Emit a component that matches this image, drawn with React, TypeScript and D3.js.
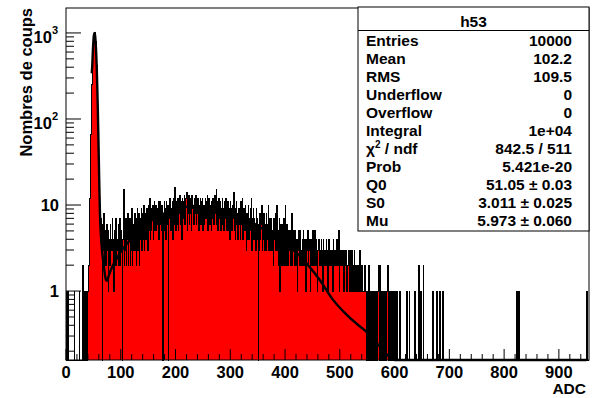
import React from 'react';
import * as d3 from 'd3';

// ---------- data ----------
const X_DOMAIN: [number, number] = [0, 955];
const Y_DOMAIN: [number, number] = [0.158, 1950];
const N_BINS = 955;

const xTickLabels = [0, 100, 200, 300, 400, 500, 600, 700, 800, 900];
const yDecades = [1, 10, 100, 1000];

// sparse bins below the pedestal peak: [adc, count]
const lowBins: [number, number][] = [
  [1, 1], [3, 1], [15, 1], [24, 1], [30, 1], [31, 2], [33, 1], [34, 1], [37, 1],
];

// pedestal peak, bins 38..64
const peakStart = 38;
const peakCounts = [
  1, 0, 1, 2, 5, 12, 31, 66, 138, 252, 410, 615, 798, 948, 1012, 942, 801, 604, 415, 249, 137, 70, 33,
  17, 9, 7, 5,
];

// photo-electron bump, bins 65..619
const bumpStart = 65;
const bumpCounts = [
  5, 0, 6, 3, 8, 2, 5, 4, 2, 6,
  3, 5, 1, 3, 4, 2, 6, 3, 4, 7,
  3, 4, 1, 5, 2, 4, 7, 2, 4, 3,
  6, 2, 4, 7, 2, 5, 3, 4, 0, 4,
  15, 2, 5, 3, 7, 2, 4, 6, 8, 2,
  4, 7, 2, 5, 3, 9, 2, 6, 5, 3,
  8, 3, 6, 2, 7, 9, 3, 5, 8, 2,
  7, 4, 9, 3, 6, 8, 4, 10, 3, 6,
  8, 4, 9, 5, 3, 10, 5, 7, 12, 4,
  9, 5, 7, 10, 4, 8, 11, 5, 7, 10,
  5, 9, 6, 11, 4, 9, 11, 6, 8, 5,
  10, 6, 0, 8, 11, 5, 9, 4, 11, 8,
  6, 10, 0, 7, 12, 12, 5, 9, 7, 11,
  4, 9, 12, 6, 16, 5, 11, 8, 6, 12,
  5, 10, 8, 13, 6, 11, 4, 12, 9, 7,
  11, 13, 6, 9, 12, 14, 5, 10, 8, 13,
  6, 12, 8, 11, 5, 13, 9, 10, 6, 12,
  8, 13, 13, 6, 11, 8, 12, 5, 10, 9,
  12, 6, 11, 8, 12, 5, 10, 6, 9, 12,
  7, 11, 8, 13, 5, 9, 12, 6, 10, 8,
  5, 11, 7, 12, 9, 6, 10, 13, 8, 15,
  6, 11, 5, 9, 12, 7, 9, 11, 5, 9,
  12, 6, 9, 5, 11, 7, 9, 12, 5, 8,
  11, 5, 9, 7, 4, 11, 7, 9, 5, 10,
  7, 14, 5, 9, 4, 8, 11, 6, 8, 4,
  9, 6, 8, 4, 11, 6, 8, 12, 4, 7,
  9, 5, 10, 6, 3, 8, 6, 4, 10, 4,
  7, 9, 5, 12, 3, 7, 5, 9, 4, 7,
  6, 3, 9, 5, 7, 4, 0, 6, 3, 8,
  4, 6, 10, 3, 7, 4, 8, 3, 6, 5,
  3, 8, 4, 6, 10, 3, 5, 7, 3, 5,
  7, 3, 5, 2, 7, 4, 5, 8, 3, 5,
  10, 3, 5, 2, 7, 1, 4, 6, 2, 4,
  6, 2, 4, 7, 2, 10, 4, 2, 6, 3,
  2, 5, 4, 3, 5, 2, 6, 8, 2, 4,
  3, 5, 2, 5, 2, 4, 3, 1, 4, 3,
  5, 2, 3, 5, 2, 3, 4, 2, 5, 3,
  2, 4, 3, 1, 4, 3, 5, 2, 3, 4,
  3, 1, 4, 3, 2, 3, 5, 2, 3, 5,
  3, 2, 4, 3, 1, 3, 4, 2, 3, 2,
  3, 4, 2, 3, 1, 4, 3, 2, 3, 2,
  4, 2, 3, 1, 3, 4, 2, 3, 2, 3,
  2, 3, 1, 4, 2, 3, 2, 3, 2, 4,
  2, 3, 2, 5, 1, 3, 2, 2, 3, 2,
  3, 2, 1, 3, 2, 2, 3, 2, 1, 2,
  2, 3, 1, 3, 2, 1, 2, 3, 1, 2,
  1, 3, 2, 1, 2, 1, 2, 1, 1, 2,
  1, 3, 1, 2, 1, 1, 2, 1, 1, 1,
  2, 1, 1, 0, 1, 1, 0, 1, 2, 1,
  0, 1, 1, 0, 1, 0, 1, 1, 0, 1,
  0, 1, 0, 1, 1, 2, 1, 0, 2, 1,
  0, 1, 0, 1, 1, 0, 1, 0, 1, 1,
  0, 1, 2, 0, 1, 0, 1, 1, 0, 1,
  0, 0, 1, 0, 1, 0, 0, 1, 0, 1,
  1, 0, 0, 0, 1, 0, 0, 0, 0, 0,
  0, 0, 0, 0, 0,
];

// isolated tail entries: [adc, count]
const tailBins: [number, number][] = [
  [622, 1], [623, 1], [627, 1], [637, 1], [644, 2], [645, 1], [648, 1], [652, 2],
  [670, 1], [677, 1], [682, 1], [688, 1], [823, 1], [827, 1], [951, 1],
];

// fitted function: [adc, value]
const fitPoints: [number, number][] = [
  [47, 340], [48, 425], [49, 610], [50, 800], [51, 950], [52, 1000], [53, 950], [54, 800],
  [55, 610], [56, 420], [57, 250], [58, 140], [59, 68], [60, 32], [61, 15], [62, 8],
  [64, 4.2], [67, 2.5], [70, 1.75], [73, 1.35], [75, 1.32], [78, 1.5], [85, 1.95], [92, 2.35],
  [100, 2.85], [115, 3.8], [130, 4.8], [150, 6.2], [172, 7.6], [195, 8.8], [215, 9.5],
  [235, 9.75], [255, 9.6], [275, 9.2], [295, 8.6], [320, 7.4], [355, 5.5], [385, 4.1],
  [415, 3.0], [442, 2.0], [465, 1.3], [487, 0.8], [510, 0.55], [530, 0.42], [550, 0.33],
  [575, 0.22], [600, 0.158], [950, 0.158],
];

const statTitle = 'h53';
const statLabels = ['Entries', 'Mean', 'RMS', 'Underflow', 'Overflow', 'Integral', 'χ^2 / ndf', 'Prob', 'Q0', 'S0', 'Mu'];
const statValues = ['10000', '102.2', '109.5', '0', '0', '1e+04', '842.5 / 511', '5.421e-20', '51.05 ± 0.03', '3.011 ± 0.025', '5.973 ± 0.060'];

// ---------- layout ----------
const W = 597, H = 398;
const PL = 66, PR = 589, PT = 8, PB = 360;
const FONT = '"Liberation Sans", Arial, Helvetica, sans-serif';

export default function App() {
  const x = d3.scaleLinear().domain(X_DOMAIN).range([PL, PR]);
  const y = d3.scaleLog().domain(Y_DOMAIN).range([PB, PT]);

  const counts = new Array(N_BINS).fill(0);
  lowBins.forEach(([b, c]) => (counts[b] = c));
  peakCounts.forEach((c, i) => (counts[peakStart + i] = c));
  bumpCounts.forEach((c, i) => (counts[bumpStart + i] = c));
  tailBins.forEach(([b, c]) => (counts[b] = c));

  const yc = (c: number) => (c > 0 ? y(c) : PB);
  let hist = `M${x(0)},${PB}`;
  counts.forEach((c, i) => {
    const yy = yc(c);
    hist += `L${x(i)},${yy}L${x(i + 1)},${yy}`;
  });
  hist += `L${x(N_BINS)},${PB}`;

  const fitLine = d3
    .line<[number, number]>()
    .x((d) => x(d[0]))
    .y((d) => y(Math.max(d[1], Y_DOMAIN[0])))
    .curve(d3.curveMonotoneX)(fitPoints) as string;

  const xMinor: number[] = [];
  for (let v = 0; v <= X_DOMAIN[1]; v += 20) xMinor.push(v);
  const yMinor: number[] = [];
  [0.1, 1, 10, 100, 1000].forEach((dec) => {
    for (let k = 2; k <= 9; k++) {
      const v = dec * k;
      if (v >= Y_DOMAIN[0] && v <= Y_DOMAIN[1]) yMinor.push(v);
    }
  });

  const boxL = 358, boxR = PR, boxT = PT - 1, boxB = 231;

  return (
    <svg width={W} height={H} style={{ display: 'block', position: 'absolute', left: 0, top: 0, background: '#fff' }}>
      <rect x={0} y={0} width={W} height={H} fill="#fff" />
      <path d={hist} fill="#ff0000" stroke="none" />
      <path d={hist} fill="none" stroke="#000" strokeWidth={1} shapeRendering="crispEdges" />
      <path d={fitLine} fill="none" stroke="#000" strokeWidth={2.4} strokeLinejoin="round" />
      <rect x={PL} y={PT} width={PR - PL} height={PB - PT} fill="none" stroke="#000" strokeWidth={1} />
      {xMinor.map((v) => (
        <line key={'xm' + v} x1={x(v)} x2={x(v)} y1={PB} y2={PB - (v % 100 === 0 ? 11 : 6)} stroke="#000" strokeWidth={1} />
      ))}
      {xTickLabels.map((v) => (
        <text key={'xl' + v} x={x(v)} y={378} textAnchor="middle" fontFamily={FONT} fontWeight="bold" fontSize={16.5}>
          {v}
        </text>
      ))}
      {yMinor.map((v) => (
        <line key={'ym' + v} x1={PL} x2={PL + 8} y1={y(v)} y2={y(v)} stroke="#000" strokeWidth={1} />
      ))}
      {yDecades.map((v) => (
        <line key={'yM' + v} x1={PL} x2={PL + 15} y1={y(v)} y2={y(v)} stroke="#000" strokeWidth={1} />
      ))}
      {yDecades.map((v) => {
        const e = Math.round(Math.log10(v));
        if (e <= 1)
          return (
            <text key={'yl' + v} x={59} y={y(v) + 6} textAnchor="end" fontFamily={FONT} fontWeight="bold" fontSize={16.5}>
              {v}
            </text>
          );
        return (
          <text key={'yl' + v} x={58} y={y(v) + 10} textAnchor="end" fontFamily={FONT} fontWeight="bold" fontSize={16.5}>
            10
            <tspan fontSize={11} dy={-9}>
              {e}
            </tspan>
          </text>
        );
      })}
      <text x={586} y={394} textAnchor="end" fontFamily={FONT} fontWeight="bold" fontSize={15.5}>
        ADC
      </text>
      <text transform={`translate(32,${PT}) rotate(-90)`} textAnchor="end" fontFamily={FONT} fontWeight="bold" fontSize={16.5}>
        Nombres de coups
      </text>
      <rect x={boxL} y={boxT} width={boxR - boxL} height={boxB - boxT} fill="#fff" stroke="#000" strokeWidth={1} />
      <text x={(boxL + boxR) / 2} y={27} textAnchor="middle" fontFamily={FONT} fontWeight="bold" fontSize={15.5}>
        {statTitle}
      </text>
      <line x1={boxL} x2={boxR} y1={30.5} y2={30.5} stroke="#000" strokeWidth={1} />
      {statLabels.map((lab, i) => {
        const cy = 40 + i * 18;
        const parts = lab.split('^');
        return (
          <g key={'s' + i}>
            <text x={366} y={cy + 5.5} fontFamily={FONT} fontWeight="bold" fontSize={15.5}>
              {parts.length > 1 ? (
                <>
                  {parts[0]}
                  <tspan fontSize={10} dy={-6}>
                    {parts[1][0]}
                  </tspan>
                  <tspan dy={6}>{parts[1].slice(1)}</tspan>
                </>
              ) : (
                lab
              )}
            </text>
            <text x={572} y={cy + 5.5} textAnchor="end" fontFamily={FONT} fontWeight="bold" fontSize={15.5}>
              {statValues[i]}
            </text>
          </g>
        );
      })}
    </svg>
  );
}
